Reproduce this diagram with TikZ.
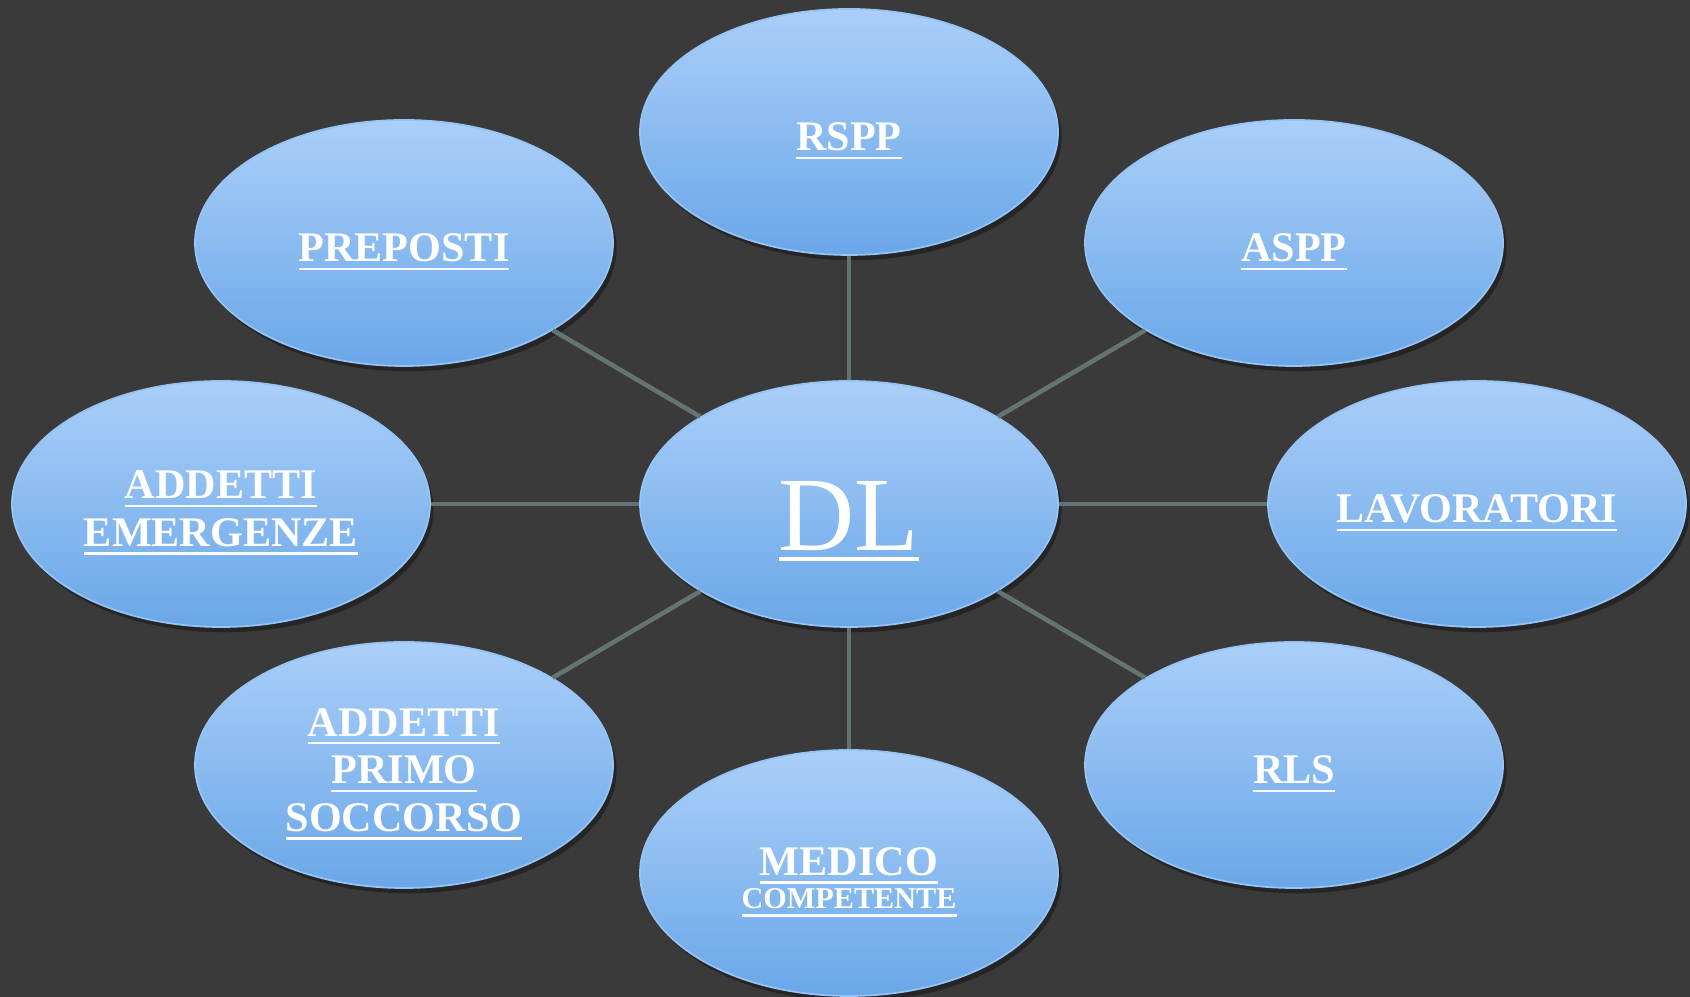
\documentclass[tikz,border=0pt]{standalone}
\usepackage{fontspec}
\setmainfont{Liberation Serif}
\usetikzlibrary{shapes.geometric,shadows}
\definecolor{bgdark}{RGB}{58,58,58}
\definecolor{bubbletop}{RGB}{170,207,249}
\definecolor{bubblebot}{RGB}{106,167,232}
\definecolor{bubblerim}{RGB}{150,196,244}
\definecolor{spoke}{RGB}{100,116,114}
\newcommand{\ulab}[2][0.7pt]{\vtop{\hbox{#2}\kern1.6pt\hrule height #1}}
\newcommand{\topstrut}{\rule{0pt}{13pt}}

\tikzset{
	bubble/.style={ellipse, minimum width=4.18cm, minimum height=2.46cm, inner sep=0pt,
		top color=bubbletop, bottom color=bubblebot, draw=bubblerim, line width=0.5pt,
		drop shadow={shadow xshift=1pt, shadow yshift=-1.5pt, opacity=0.35, fill=black},
		text=white, align=center, font=\bfseries\fontsize{12}{13.5}\selectfont,
		execute at begin node={\rule{0pt}{13pt}}},
	spokeline/.style={draw=spoke, line width=1.3pt}
}

\begin{document}
\begin{tikzpicture}
\fill[bgdark] (0,0) rectangle (16.9,9.97);
\clip (0,0) rectangle (16.9,9.97);

\node[bubble, font=\fontsize{30}{32}\selectfont, execute at begin node={\rule{0pt}{29.5pt}}] 
(dl) at (8.49, 4.93) {\ulab[1.1pt]{DL}};

\node[bubble] (rspp) at (8.49, 8.65) {\ulab{RSPP}};
\node[bubble] (aspp) at (12.94, 7.54) {\ulab{ASPP}};
\node[bubble] (lav) at (14.77, 4.93) {\ulab{LAVORATORI}};
\node[bubble] (rls) at (12.94, 2.32) {\ulab{RLS}};
\node[bubble] (medico) at (8.49, 1.24) 
{\ulab{\topstrut MEDICO}\\[-4pt]{\fontsize{8.6}{10}\selectfont\ulab[0.6pt]{COMPETENTE}}};
\node[bubble] (primo) at (4.04, 2.32) 
{\ulab{\topstrut ADDETTI}\\\ulab{PRIMO}\\\ulab{SOCCORSO}};
\node[bubble] (emerg) at (2.21, 4.93) 
{\ulab{\topstrut ADDETTI}\\\ulab{EMERGENZE}};
\node[bubble] (prep) at (4.04, 7.54) {\ulab{PREPOSTI}};

\foreach \n in {rspp, aspp, lav, rls, medico, primo, emerg, prep}
\draw[spokeline] (dl) -- (\n);

\end{tikzpicture}
\end{document}
